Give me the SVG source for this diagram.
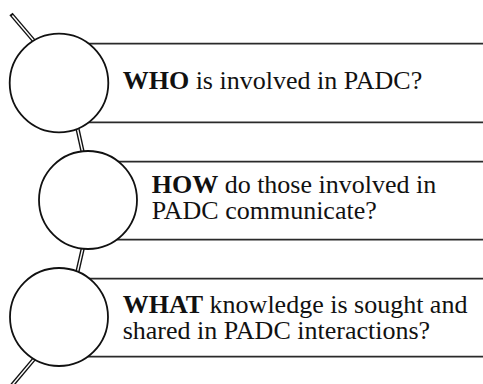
<svg xmlns="http://www.w3.org/2000/svg" width="483" height="384" viewBox="0 0 483 384">
<style>
.bg{fill:#fff}
.band{stroke:#2a2a2a;stroke-width:1.8;fill:none}
.stem-o{stroke:#111;stroke-width:4.2;stroke-linecap:butt;fill:none}
.stem-i{stroke:#fff;stroke-width:1.4;stroke-linecap:butt;fill:none}
.circ{fill:#fff;stroke:#111;stroke-width:1.8}
.t{font-family:"Liberation Serif","Times New Roman",serif;font-size:26px;fill:#111}
.b{font-weight:bold}
</style>
<rect class="bg" width="483" height="384"/>
<g id="connectors">
  <line class="stem-o" x1="11" y1="14" x2="40" y2="48"/>
  <line class="stem-i" x1="12.3" y1="15.5" x2="40" y2="48"/>
  <line class="stem-o" x1="76" y1="122" x2="84" y2="158"/>
  <line class="stem-i" x1="76" y1="122" x2="84" y2="158"/>
  <line class="stem-o" x1="84" y1="243" x2="76" y2="278"/>
  <line class="stem-i" x1="84" y1="243" x2="76" y2="278"/>
  <line class="stem-o" x1="40" y1="352" x2="3" y2="396"/>
  <line class="stem-i" x1="40" y1="352" x2="3" y2="396"/>
</g>
<g id="node-who">
  <path class="band" d="M59 43.7H483M59 122.3H483"/>
  <circle class="circ" cx="59" cy="83" r="49.3"/>
  <text class="t" x="122.7" y="89"><tspan class="b">WHO</tspan> is involved in PADC?</text>
</g>
<g id="node-how">
  <path class="band" d="M88 161.7H483M88 239.7H483"/>
  <circle class="circ" cx="88" cy="200" r="49"/>
  <text class="t" x="151.7" y="193"><tspan class="b">HOW</tspan> do those involved in</text>
  <text class="t" x="151.7" y="219">PADC communicate?</text>
</g>
<g id="node-what">
  <path class="band" d="M59 278.7H483M59 356.7H483"/>
  <circle class="circ" cx="59" cy="317" r="49"/>
  <text class="t" x="122.7" y="313"><tspan class="b">WHAT</tspan> knowledge is sought and</text>
  <text class="t" x="122.7" y="338.5">shared in PADC interactions?</text>
</g>
</svg>
